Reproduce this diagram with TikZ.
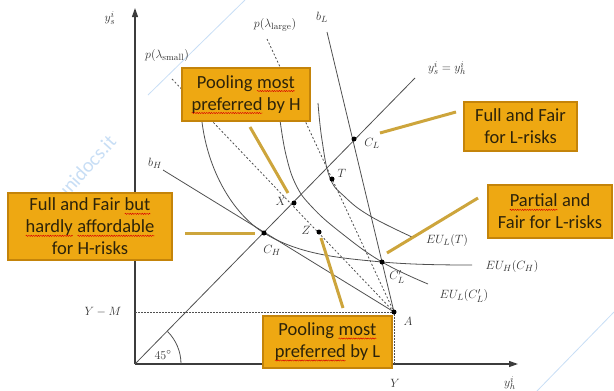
\documentclass[tikz,border=0pt]{standalone}
\usepackage{fontspec}
\newfontfamily\boxfont{Carlito}
\usetikzlibrary{arrows.meta,decorations.pathmorphing}
\definecolor{boxfill}{RGB}{238,168,18}
\definecolor{boxline}{RGB}{196,132,10}
\definecolor{stub}{RGB}{205,165,60}
\definecolor{axisgray}{RGB}{60,60,60}
\definecolor{curvegray}{RGB}{80,80,80}
\definecolor{wm}{RGB}{200,222,245}
\definecolor{boxtext}{RGB}{45,35,10}
\newcommand\redsq[1]{\tikz[baseline=(w.base), minimum width=0pt, minimum height=0pt,
  inner sep=0pt, outer sep=0pt, draw=none, fill=none, line width=0.45pt]{%
  \node (w) {#1};%
  \draw[red!85!black, decorate, decoration={snake, amplitude=0.6pt, segment length=2.4pt}]
   ([yshift=-3pt]w.base west) -- ([yshift=-3pt]w.base east);}}
\begin{document}
\begin{tikzpicture}[x=1pt,y=-1pt,
  ax/.style={draw=axisgray, line width=1.2pt},
  icurve/.style={draw=curvegray, line width=0.8pt},
  dotline/.style={draw=curvegray, line width=0.8pt, dash pattern=on 2pt off 2pt},
  lab/.style={text=black!80, font=\fontsize{13}{15}\selectfont, inner sep=0pt},
  dotpt/.style={circle, fill=black, inner sep=0pt, minimum size=5pt},
  obox/.style={draw=boxline, fill=boxfill, line width=1.2pt, align=center,
    font=\boxfont\fontsize{18.5}{22}\selectfont, text=boxtext, inner sep=1pt},
  stubline/.style={draw=stub, line width=3pt}]
\useasboundingbox (0,0) rectangle (614,391);
% watermark
\draw[wm, line width=0.8pt] (148,95) -- (245,0);
\draw[wm, line width=0.8pt] (537,391) -- (614,312);
\node[text=wm, rotate=48, font=\boxfont\fontsize{20}{20}\selectfont] (wmk) at (70,185) {www.unidocs.it};
% coordinates
\coordinate (O) at (135,364);
\coordinate (Ytop) at (135,8);
\coordinate (Xend) at (518,364);
\coordinate (A) at (394,312);
\coordinate (Dend) at (415,78);
\coordinate (bHs) at (163,170);
\coordinate (bLs) at (327,32);
\coordinate (pLs) at (267,39);
\coordinate (pSs) at (172,79);
\coordinate (YM) at (135,312);
\coordinate (Yax) at (394,364);
% axes
\draw[ax,-{Triangle[length=9pt,width=6pt]}] (O) -- (Ytop);
\draw[ax,-{Triangle[length=9pt,width=6pt]}] (O) -- (Xend);
\draw[icurve] (O) -- (Dend);
\draw[icurve] (181,364) arc[start angle=0, end angle=45, radius=46pt];
\draw[dotline, dash pattern=on 1.5pt off 1.5pt] (YM) -- (A) -- (Yax);
% budget lines
\draw[icurve] (bHs) -- (A);
\draw[icurve] (bLs) -- (A);
\draw[dotline] (pLs) -- (A);
\draw[dotline] (pSs) -- (A);
% indifference curves
\draw[icurve] (202,122) .. controls (208,170) and (232,213) .. (264,233)
  .. controls (300,255) and (340,258) .. (382,262)
  .. controls (410,264.5) and (440,265) .. (472,265);
\draw[icurve] plot[smooth, tension=0.7] coordinates {(280,120) (286,155) (296,185) (312,207) (340,232) (382,262) (428,284)};
\draw[icurve] plot[smooth, tension=0.7] coordinates {(318,103) (322,140) (330,178) (345,197) (370,216) (412,237)};
% points
\node[dotpt] (CH) at (264,233) {};
\node[dotpt] (X) at (294,203) {};
\node[dotpt] (CL) at (354,139) {};
\node[dotpt] (T) at (332,179) {};
\node[dotpt] (Z) at (319,232) {};
\node[dotpt] (CLp) at (382,262) {};
\node[dotpt] (Ad) at (A) {};
% labels
\node[lab] (lys) at (110,18) {$y^i_s$};
\node[lab] (lyh) at (510,383) {$y^i_h$};
\node[lab] (lY) at (395,383) {$Y$};
\node[lab] (lYM) at (103,312) {$Y-M$};
\node[lab] (lA) at (408,321) {$A$};
\node[lab] (ldiag) at (447,68) {$y^i_s=y^i_h$};
\node[lab] (lbH) at (155,163) {$b_H$};
\node[lab] (lbL) at (322,17) {$b_L$};
\node[lab] (lpl) at (275,25) {$p(\lambda_{\mathrm{large}})$};
\node[lab] (lps) at (167,55) {$p(\lambda_{\mathrm{small}})$};
\node[lab] (lCH) at (272,250) {$C_H$};
\node[lab] (lX) at (281,201) {$X$};
\node[lab] (lCL) at (372,143) {$C_L$};
\node[lab] (lT) at (342,173) {$T$};
\node[lab] (lZ) at (306,230) {$Z$};
\node[lab] (lCLp) at (397,277) {$C_L^{\prime}$};
\node[lab] (lEUT) at (447,240) {$EU_L(T)$};
\node[lab] (lEUH) at (512,266) {$EU_H(C_H)$};
\node[lab] (lEUC) at (464,296) {$EU_L(C_L^{\prime})$};
\node[lab] (l45) at (163,355) {$45^\circ$};
% boxes
\node[obox, minimum width=128pt, minimum height=53pt] (B1) at (246,94.5) {Pooling \redsq{most}\\\redsq{preferred} by H};
\node[obox, minimum width=113pt, minimum height=49pt] (B2) at (520.5,126.5) {Full and Fair\\for L-risks};
\node[obox, minimum width=124pt, minimum height=53pt] (B3) at (550,211.5) {\redsq{Partial} and\\Fair for L-risks};
\node[obox, minimum width=164pt, minimum height=67pt] (B4) at (90,226.5) {Full and Fair \redsq{but}\\\redsq{hardly} \redsq{affordable}\\for H-risks};
\node[obox, minimum width=129pt, minimum height=52pt] (B5) at (327.5,342) {Pooling \redsq{most}\\\redsq{preferred} by L};
% stubs
\coordinate (s1a) at (250,127); \coordinate (s1b) at (288,193);
\coordinate (s2a) at (380,133); \coordinate (s2b) at (456,112);
\coordinate (s3a) at (387,253); \coordinate (s3b) at (478,198);
\coordinate (s4a) at (185,233); \coordinate (s4b) at (255,233);
\coordinate (s5a) at (321,238); \coordinate (s5b) at (343,308);
\draw[stubline] (s1a) -- (s1b);
\draw[stubline] (s2a) -- (s2b);
\draw[stubline] (s3a) -- (s3b);
\draw[stubline] (s4a) -- (s4b);
\draw[stubline] (s5a) -- (s5b);
\end{tikzpicture}
\end{document}
